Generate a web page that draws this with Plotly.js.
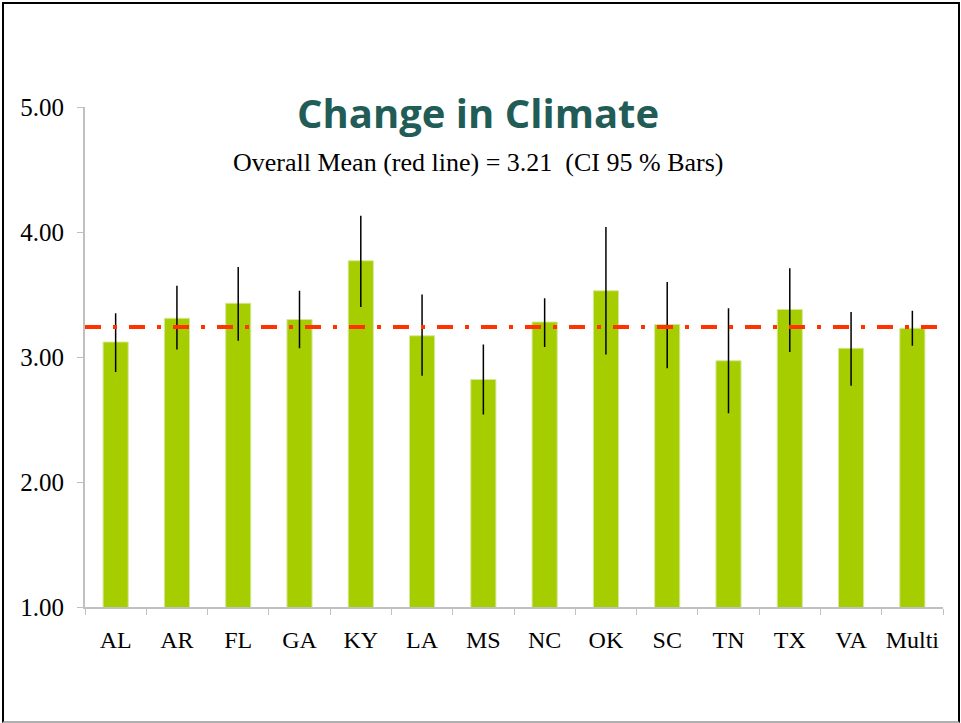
<!DOCTYPE html>
<html>
<head>
<meta charset="utf-8">
<script src="https://cdn.plot.ly/plotly-3.0.1.min.js"></script>
<style>
  html, body { margin: 0; padding: 0; background: #fff; }
  #wrap { position: relative; width: 961px; height: 723px; overflow: hidden; }
  #chart { position: absolute; left: 0; top: 0; width: 961px; height: 723px; }
  #frame { position: absolute; left: 2px; top: 2px; width: 954px; height: 717px;
           border-top: 2px solid #000; border-left: 2px solid #000; border-right: 2px solid #000;
           border-bottom: 2px solid #b0b0b0; pointer-events: none; }
</style>
</head>
<body>
<div id="wrap"><div id="chart"></div><div id="frame"></div></div>
<script>
const states = ["AL","AR","FL","GA","KY","LA","MS","NC","OK","SC","TN","TX","VA","Multi"];
const means  = [3.12, 3.31, 3.43, 3.30, 3.77, 3.17, 2.82, 3.28, 3.53, 3.26, 2.97, 3.38, 3.07, 3.23];
const ciUpper = [3.35, 3.57, 3.72, 3.53, 4.13, 3.50, 3.10, 3.47, 4.04, 3.60, 3.39, 3.71, 3.36, 3.37];
const ciLower = [2.88, 3.06, 3.13, 3.07, 3.40, 2.85, 2.54, 3.08, 3.02, 2.91, 2.55, 3.04, 2.77, 3.09];
const overallLine = 3.24;
const yTicks = [1, 2, 3, 4, 5];

const bars = {
  type: "bar",
  x: states,
  y: means,
  marker: { color: "#a6cd00", line: { color: "#d4e89a", width: 1 } },
  error_y: {
    type: "data", symmetric: false,
    array: means.map((m, i) => ciUpper[i] - m),
    arrayminus: means.map((m, i) => m - ciLower[i]),
    color: "#000000", thickness: 1.5, width: 0
  },
  hoverinfo: "skip"
};

const meanLine = {
  type: "scatter", mode: "lines",
  x: [-0.5, states.length - 0.5],
  y: [overallLine, overallLine],
  xaxis: "x2",
  line: { color: "#ff3300", width: 4, dash: "16px,12px,4px,12px" },
  hoverinfo: "skip"
};

const serif = "Liberation Serif, Times New Roman, serif";

const layout = {
  width: 961, height: 723,
  margin: { l: 85, r: 18, t: 107, b: 116 },
  paper_bgcolor: "#ffffff", plot_bgcolor: "#ffffff",
  showlegend: false,
  bargap: 0.59,
  xaxis: {
    type: "category",
    showgrid: false, zeroline: false,
    showline: true, linecolor: "#c0c0c0", linewidth: 2,
    ticks: "outside", tickson: "boundaries", ticklen: 6, tickcolor: "#c0c0c0", tickwidth: 1,
    tickangle: 0,
    tickfont: { family: serif, size: 24, color: "#000" },
    ticklabelstandoff: 10
  },
  xaxis2: {
    overlaying: "x", range: [-0.5, states.length - 0.5],
    visible: false
  },
  yaxis: {
    range: [1, 5],
    tickvals: yTicks, tickformat: ".2f",
    showgrid: false, zeroline: false,
    showline: true, linecolor: "#c0c0c0", linewidth: 2,
    ticks: "outside", ticklen: 6, tickcolor: "#c0c0c0", tickwidth: 1,
    tickfont: { family: serif, size: 25, color: "#000" },
    ticklabelstandoff: 8
  },
  annotations: [
    { text: "<b>Change in Climate</b>", xref: "paper", yref: "paper",
      x: (478 - 85) / 858, y: (607 - 112) / 500, xanchor: "center", yanchor: "middle",
      showarrow: false, font: { family: "Open Sans, sans-serif", size: 40, color: "#215d56" } },
    { text: "Overall Mean (red line) = 3.21  (CI 95 % Bars)", xref: "paper", yref: "paper",
      x: (478 - 85) / 858, y: (607 - 162) / 500, xanchor: "center", yanchor: "middle",
      showarrow: false, font: { family: serif, size: 26, color: "#000" } }
  ]
};

Plotly.newPlot("chart", [bars, meanLine], layout, { staticPlot: true });
</script>
</body>
</html>
